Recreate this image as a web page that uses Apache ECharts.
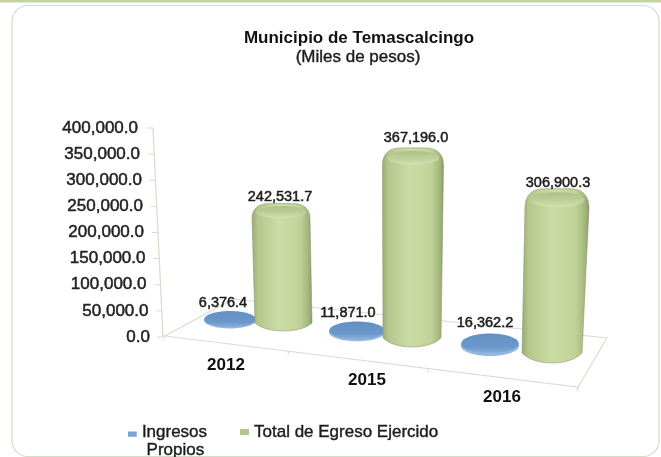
<!DOCTYPE html>
<html><head><meta charset="utf-8">
<style>html,body{margin:0;padding:0;background:#fff}#c{width:661px;height:457px;filter:blur(0.5px)}</style>
<script src="https://cdn.jsdelivr.net/npm/echarts@6/dist/echarts.min.js"></script>
</head><body><div id="c"></div>
<script>
const categories = ['2012','2015','2016'];
const ingresos = [6376.4, 11871.0, 16362.2];
const egreso = [242531.7, 367196.0, 306900.3];
const yTicks = [0,50000,100000,150000,200000,250000,300000,350000,400000];
const seriesNames = ['Ingresos\nPropios','Total de Egreso Ejercido'];
const FONT = '"Liberation Sans",Arial,sans-serif';

// pseudo-3D projection of each category on the chart floor
const blueDx=[4,-7,-12], blueDy=[-16.8,-4.7,9.1], blueRx=[26,28,29], blueRy=[8.2,9,10];
const greenDx=[57.5,48,50], greenDy=[-14,1,16], greenRx=[29,30.5,32], greenRxBase=[28.5,29,30], greenRy=[8,9,10], greenK=[0.88,0.944,0.962], greenLean=[-2.5,1,5];
const blueLabel=[[-7,-17.2],[-9,-19.3],[-5,-23.1]];
const greenLabel=[[-1,-6],[3,-10],[1,-6]];
const labelPadY=[0,1.5,3.5,4.5,6,7,8,10,12];
const labelPadX=[[0,0],[15,6],[32,0]];
const fmt=v=>v.toLocaleString('en-US',{minimumFractionDigits:1,maximumFractionDigits:1});
const labelStyle=(t,x,y)=>({type:'text',z2:50,style:{text:t,x:x,y:y,align:'center',verticalAlign:'middle',font:'14.5px '+FONT,fill:'#1c1c1c',stroke:'#1c1c1c',lineWidth:0.5}});

function renderFrame(params,api){
  const c=params.coordSys, x0=c.x, yb=c.y+c.height;
  const v=api.value(0), p=api.coord([0,v]);
  const wx=m=>x0+6-10*m/400000;
  const line='#d9dacd';
  const ch=[{type:'line',shape:{x1:wx(v)-6,y1:p[1],x2:wx(v),y2:p[1]},style:{stroke:line,lineWidth:1}}];
  if(params.dataIndex===0){
    const FL=[x0+8,yb-1],FR=[x0+421,yb+50],BR=[x0+450,yb+1],BL=[x0+76,yb-38];
    ch.push({type:'polygon',shape:{points:[FL,FR,BR,BL]},style:{fill:'#fff',stroke:'#dcddd0',lineWidth:1.2}});
    ch.push({type:'line',shape:{x1:wx(0),y1:yb,x2:wx(400000),y2:c.y},style:{stroke:line,lineWidth:1.2}});
    [0,0.3,0.638,1].forEach(f=>{const tx=FL[0]+(FR[0]-FL[0])*f,ty=FL[1]+(FR[1]-FL[1])*f;
      ch.push({type:'line',shape:{x1:tx,y1:ty,x2:tx-1,y2:ty+4},style:{stroke:line,lineWidth:1}});});
  }
  return {type:'group',children:ch};
}
function renderBlue(params,api){
  const i=api.value(0),v=api.value(1),b=api.coord([i,0]),t=api.coord([i,v]);
  const cx=b[0]+blueDx[i],by=b[1]+blueDy[i],h=(b[1]-t[1])*0.3,rx=blueRx[i],ry=blueRy[i];
  const top=by-h;
  return {type:'group',children:[
    {type:'ellipse',shape:{cx:cx,cy:by,rx:rx,ry:ry},style:{fill:'#94b8e0'}},
    {type:'rect',shape:{x:cx-rx,y:top,width:2*rx,height:h},style:{fill:'#8fb3dc'}},
    {type:'ellipse',shape:{cx:cx,cy:top,rx:rx-0.3,ry:ry},style:{fill:new echarts.graphic.LinearGradient(0,0,0,1,[{offset:0,color:'#6390c4'},{offset:0.7,color:'#6c99cc'},{offset:1,color:'#8db2dc'}])}},
    labelStyle(fmt(v),cx+blueLabel[i][0],by+blueLabel[i][1])
  ]};
}
function renderGreen(params,api){
  const i=api.value(0),v=api.value(1),b=api.coord([i,0]),t=api.coord([i,v]);
  const cx=b[0]+greenDx[i],by=b[1]+greenDy[i],rx=greenRx[i],rb=greenRxBase[i],ry=greenRy[i];
  const tx=cx+greenLean[i],ty=by-(b[1]-t[1])*greenK[i];
  const s=ry*0.9;
  const d='M'+(cx-rb)+' '+by+
    ' C'+(cx-rb*0.6)+' '+(by+ry*1.33)+' '+(cx+rb*0.6)+' '+(by+ry*1.33)+' '+(cx+rb)+' '+by+
    ' L'+(tx+rx)+' '+(ty+s)+
    ' C'+(tx+rx)+' '+(ty-ry*0.3)+' '+(tx+rx*0.8)+' '+(ty-ry)+' '+(tx+rx*0.4)+' '+(ty-ry)+
    ' L'+(tx-rx*0.4)+' '+(ty-ry)+
    ' C'+(tx-rx*0.8)+' '+(ty-ry)+' '+(tx-rx)+' '+(ty-ry*0.3)+' '+(tx-rx)+' '+(ty+s)+' Z';
  const body=new echarts.graphic.LinearGradient(0,0,1,0,[
    {offset:0,color:'#98aa74'},{offset:0.1,color:'#b4c78b'},{offset:0.45,color:'#cbdda5'},{offset:0.8,color:'#bfd296'},{offset:0.94,color:'#a3b57b'},{offset:1,color:'#859565'}]);
  return {type:'group',children:[
    {type:'path',shape:{pathData:d},style:{fill:body,stroke:'#8d9c6e',lineWidth:0.6}},
    {type:'ellipse',shape:{cx:tx,cy:ty+ry*0.1,rx:rx*0.86,ry:ry*0.75},style:{fill:new echarts.graphic.LinearGradient(0,0,0,1,[{offset:0,color:'#aebf88'},{offset:0.6,color:'#c0d19a'},{offset:1,color:'#d3e2b2'}])}},
    labelStyle(fmt(v),tx+greenLabel[i][0],ty-ry+greenLabel[i][1])
  ]};
}
const yRich={},xRich={};
categories.forEach((c,k)=>{xRich['c'+c]={padding:[labelPadX[k][0],0,0,labelPadX[k][1]],fontFamily:'Liberation Sans',fontWeight:'bold',fontSize:17,color:'#111'};});
yTicks.forEach((t,k)=>{yRich['t'+t]={padding:[0,labelPadY[k],0,0],fontFamily:'Liberation Sans',fontSize:17,color:'#222',textBorderColor:'#222',textBorderWidth:0.5};});

const chart=echarts.init(document.getElementById('c'),null,{renderer:'canvas'});
chart.setOption({
  animation:false,
  backgroundColor:'#fff',
  graphic:[
    {type:'rect',z:-10,shape:{x:0,y:0,width:661,height:2.5},style:{fill:'#c3d3a6'},silent:true},
    {type:'rect',z:-10,shape:{x:12,y:5.5,width:647,height:451,r:16},style:{fill:'#fff',stroke:'#d6dccb',lineWidth:1.2},silent:true}
  ],
  title:[
    {text:'Municipio de Temascalcingo',left:354,top:25,textAlign:'center',textStyle:{fontFamily:'Liberation Sans',fontWeight:'bold',fontSize:17,color:'#111'}},
    {text:'(Miles de pesos)',left:353,top:44,textAlign:'center',textStyle:{fontFamily:'Liberation Sans',fontWeight:'normal',fontSize:17,color:'#1c1c1c',textBorderColor:'#1c1c1c',textBorderWidth:0.4}}
  ],
  grid:{left:157,top:128,width:414,height:209},
  legend:[
    {data:[{name:seriesNames[0],icon:'path://M0 0H0.01V0.01Z M0 5H10V11H0Z M0 32H0.01V32'}],left:128,top:423,padding:0,itemWidth:9,itemHeight:28,itemGap:0,
     formatter:n=>n.replace('\n','\n '),
     textStyle:{fontFamily:'Liberation Sans',fontSize:17,color:'#1c1c1c',lineHeight:18,textBorderColor:'#1c1c1c',textBorderWidth:0.4}},
    {data:[{name:seriesNames[1],icon:'rect'}],left:240,top:423,padding:0,itemWidth:9,itemHeight:6,itemGap:0,
     textStyle:{fontFamily:'Liberation Sans',fontSize:17,color:'#1c1c1c',lineHeight:18,textBorderColor:'#1c1c1c',textBorderWidth:0.4}}
  ],
  xAxis:{type:'category',data:categories,axisLine:{show:false},axisTick:{show:false},splitLine:{show:false},
    axisLabel:{margin:20,interval:0,formatter:v=>'{c'+v+'|'+v+'}',rich:xRich}},
  yAxis:{type:'value',min:0,max:400000,interval:50000,axisLine:{show:false},axisTick:{show:false},splitLine:{show:false},
    axisLabel:{margin:7,formatter:v=>'{t'+v+'|'+fmt(v)+'}',rich:yRich}},
  series:[
    {type:'custom',name:'frame',silent:true,z:1,data:yTicks.map(t=>[t]),encode:{y:0},renderItem:renderFrame,clip:false},
    {type:'custom',name:seriesNames[0],z:2,itemStyle:{color:'#7ba3d3'},data:ingresos.map((v,i)=>[i,v]),encode:{x:0,y:1},renderItem:renderBlue,clip:false},
    {type:'custom',name:seriesNames[1],z:3,itemStyle:{color:'#b3c88b'},data:egreso.map((v,i)=>[i,v]),encode:{x:0,y:1},renderItem:renderGreen,clip:false}
  ]
});
</script></body></html>
